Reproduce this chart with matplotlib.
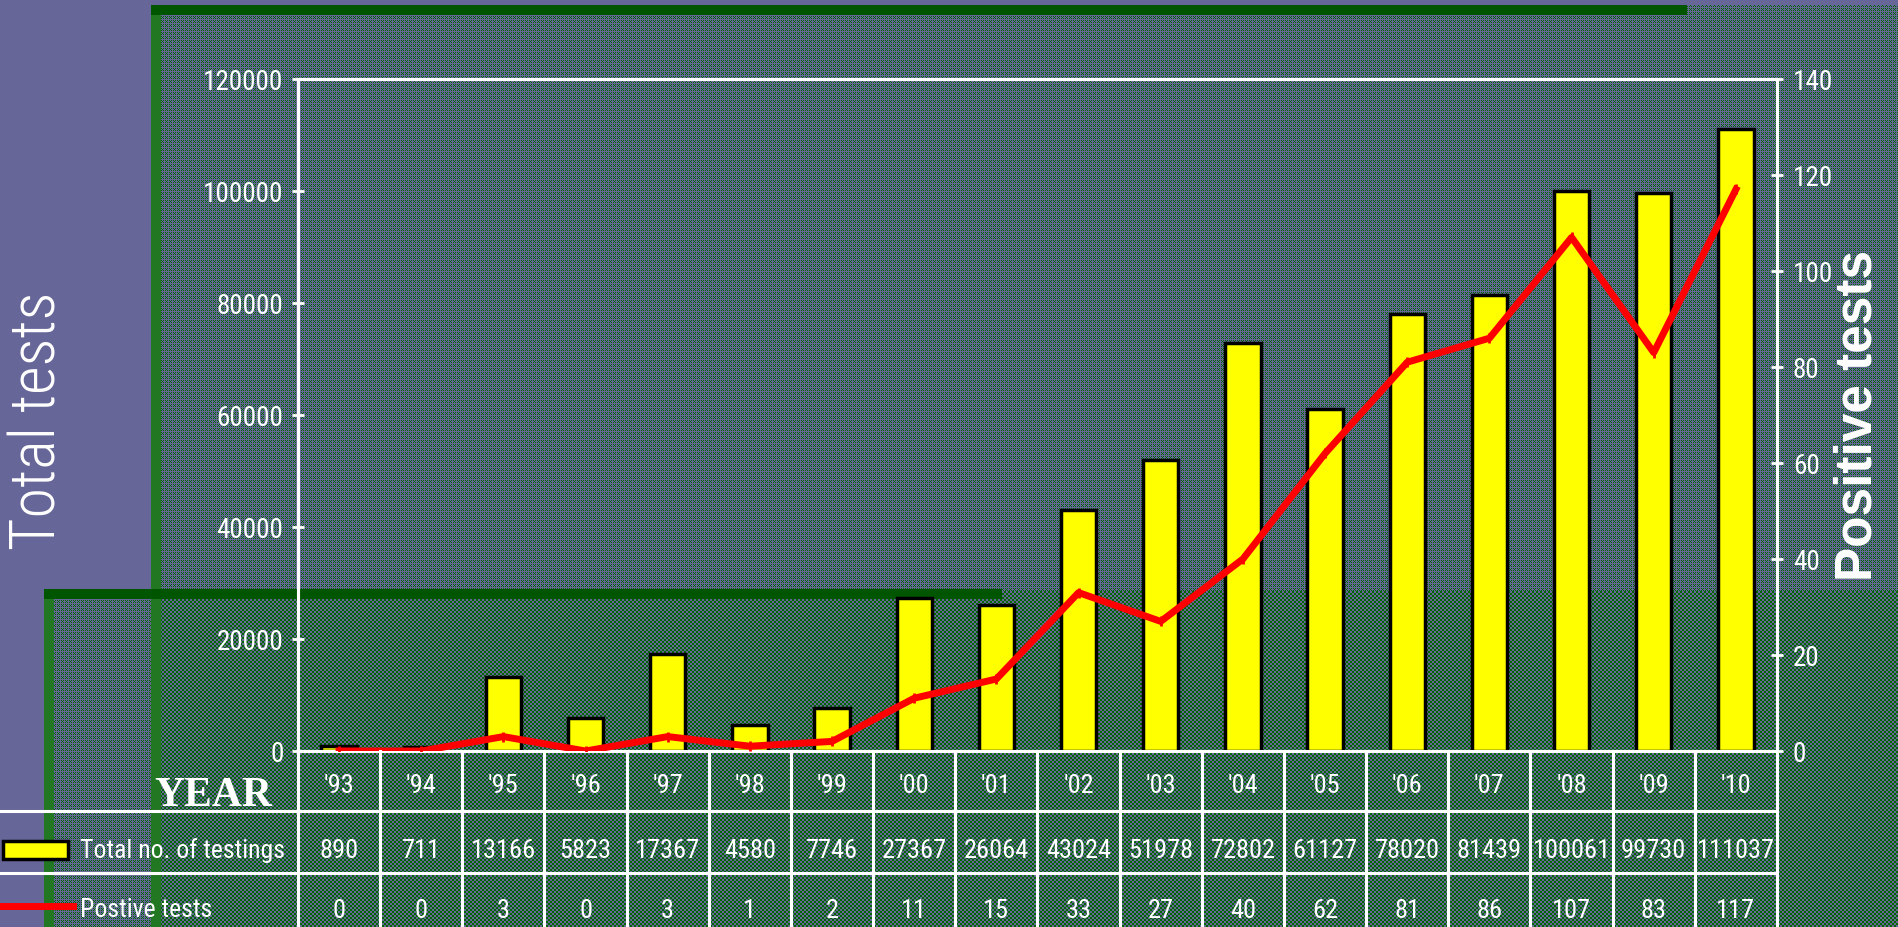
import numpy as np
import matplotlib
matplotlib.use('Agg')
import matplotlib.pyplot as plt
from matplotlib import transforms
from matplotlib.lines import Line2D
from matplotlib.patches import Rectangle

plt.rcParams['font.family'] = ['Roboto Condensed', 'Liberation Sans', 'DejaVu Sans']

years = ["'93", "'94", "'95", "'96", "'97", "'98", "'99", "'00", "'01",
         "'02", "'03", "'04", "'05", "'06", "'07", "'08", "'09", "'10"]
total_tests = [890, 711, 13166, 5823, 17367, 4580, 7746, 27367, 26064,
               43024, 51978, 72802, 61127, 78020, 81439, 100061, 99730, 111037]
positive_tests = [0, 0, 3, 0, 3, 1, 2, 11, 15, 33, 27, 40, 62, 81, 86, 107, 83, 117]

W, H = 1898, 928
SLATE = '#666699'
WHITE = 'white'


def fy(y):
    # pixel row (from top) -> figure fraction
    return 1 - y / H


fig = plt.figure(figsize=(W / 100, H / 100), dpi=100, facecolor=SLATE)

# dithered slide background
slate = np.array([0x66, 0x66, 0x99]) / 255
green = np.array([0x00, 0x66, 0x00]) / 255
dark = np.array([0x00, 0x55, 0x00]) / 255
light = np.array([0x22, 0x77, 0x22]) / 255
yy, xx = np.mgrid[0:H, 0:W]
img = np.empty((H, W, 3))
img[:] = slate
pat_up = ((xx + yy) % 2 == 0) & (xx % 4 != 0) & (yy % 4 != 0)
pat_lo = ((xx // 2 + yy // 2) % 2 == 0)
upper = (xx >= 151) & (yy >= 6) & (yy < 592)
lower = (xx >= 44) & (yy >= 592)
img[upper & pat_up] = green
img[lower & (xx >= 161) & pat_lo] = green
img[lower & (xx < 161) & pat_up] = green
img[(yy >= 6) & (yy < 16) & (xx >= 151) & (xx < 1687)] = dark
img[(yy >= 16) & (xx >= 151) & (xx < 161)] = light
img[(yy >= 590) & (yy < 600) & (xx >= 44) & (xx < 1002)] = dark
img[(yy >= 600) & (xx >= 44) & (xx < 54)] = light
fig.figimage(img, xo=0, yo=0, origin='upper', zorder=-10)

ax = fig.add_axes([298 / W, fy(752), 1479 / W, 672 / H])
ax.patch.set_visible(False)
x = np.arange(len(years))
ax.bar(x, total_tests, width=0.43, color='#FFFF00', edgecolor='black', linewidth=2.5, zorder=3)
ax.set_xlim(-0.5, len(years) - 0.5)
ax.set_ylim(0, 120000)
ax.set_yticks(np.arange(0, 120001, 20000))
ax.set_xticks([])
for s in ax.spines.values():
    s.set_color(WHITE)
    s.set_linewidth(2.2)
ax.tick_params(axis='y', direction='inout', length=9, width=2, color=WHITE,
               labelcolor=WHITE, labelsize=19.5, pad=6)

ax2 = ax.twinx()
ax2.set_ylim(0, 140)
ax2.set_yticks(np.arange(0, 141, 20))
ax2.plot(x, positive_tests, color='#FF0000', lw=5, solid_joinstyle='round',
         marker='|', ms=7, mew=2, zorder=4)
for s in ax2.spines.values():
    s.set_color(WHITE)
    s.set_linewidth(2.2)
ax2.tick_params(axis='y', direction='inout', length=9, width=2, color=WHITE,
                labelcolor=WHITE, labelsize=19.5, pad=7)

# data table under the chart
tr = transforms.blended_transform_factory(ax.transData, fig.transFigure)
for i in range(len(years) + 1):
    fig.add_artist(Line2D([i - 0.5, i - 0.5], [fy(752), fy(930)], transform=tr,
                          color=WHITE, lw=2.2))
for yl in [812, 874]:
    fig.add_artist(Line2D([0, 1777 / W], [fy(yl), fy(yl)], transform=fig.transFigure,
                          color=WHITE, lw=2.2))
for i in range(len(years)):
    fig.text(i, fy(793), years[i], transform=tr, ha='center', va='baseline',
             color=WHITE, fontsize=19)
    fig.text(i, fy(858), str(total_tests[i]), transform=tr, ha='center', va='baseline',
             color=WHITE, fontsize=19)
    fig.text(i, fy(918), str(positive_tests[i]), transform=tr, ha='center', va='baseline',
             color=WHITE, fontsize=19)

fig.text(213 / W, fy(796), 'YEAR', ha='center', va='center', color=WHITE,
         family=['Liberation Serif', 'DejaVu Serif'], weight='bold', fontsize=30)

# legend keys
fig.add_artist(Rectangle((3 / W, fy(860)), 65 / W, 18 / H, transform=fig.transFigure,
                         fc='#FFFF00', ec='black', lw=2.5))
fig.add_artist(Line2D([0, 73 / W], [fy(907), fy(907)], transform=fig.transFigure,
                      color='#FF0000', lw=5))
fig.text(80 / W, fy(858), 'Total no. of testings', ha='left', va='baseline',
         color=WHITE, fontsize=18.5)
fig.text(80 / W, fy(917), 'Postive tests', ha='left', va='baseline',
         color=WHITE, fontsize=18.5)

# axis titles
fig.text(38 / W, fy(421), 'Total tests', rotation=90, ha='center', va='center',
         color=WHITE, fontsize=45, weight='light')
fig.text(1858 / W, fy(415), 'Positive tests', rotation=90, ha='center', va='center',
         color=WHITE, family=['Liberation Sans', 'DejaVu Sans'], weight='bold', fontsize=37)

fig.savefig('out.png', dpi=100, facecolor=fig.get_facecolor())
